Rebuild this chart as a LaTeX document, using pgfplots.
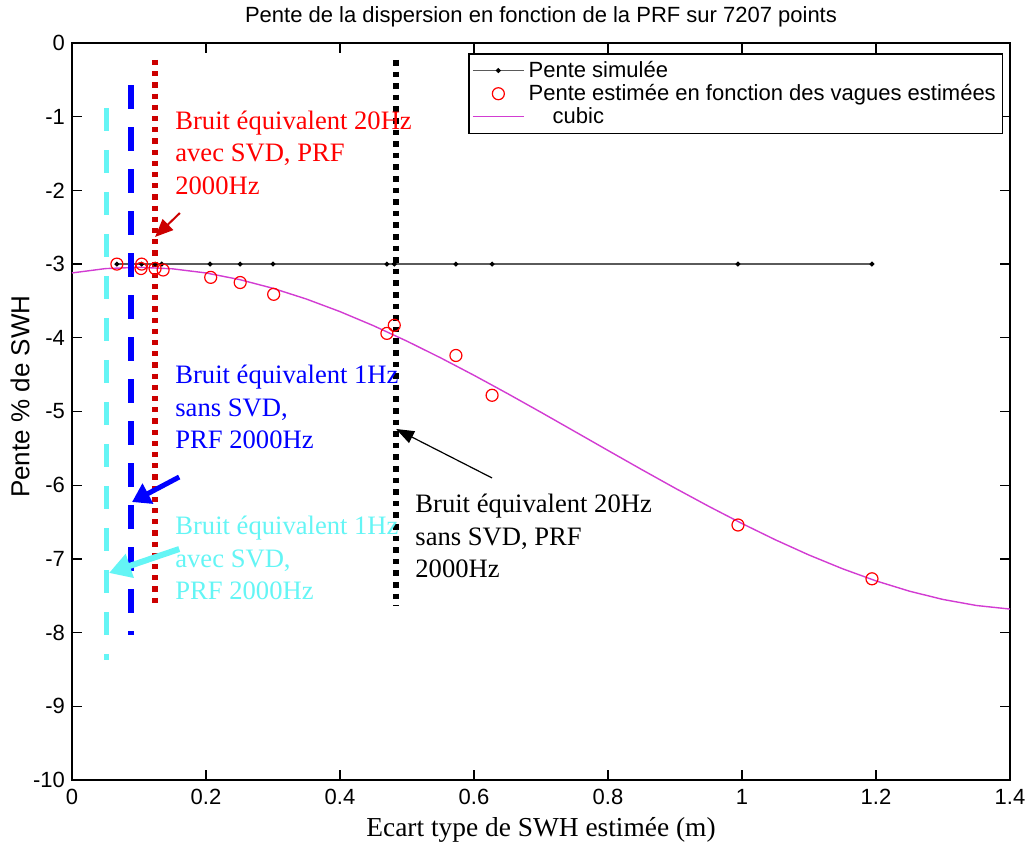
\documentclass[border=0pt]{standalone}
\usepackage{pgfplots}
\pgfplotsset{compat=1.18}
\usepackage{fontspec}
\setmainfont{Liberation Serif}
\newfontfamily\arial{Liberation Sans}
\usetikzlibrary{arrows.meta}
\definecolor{darkred}{RGB}{204,0,0}
\definecolor{mycyan}{RGB}{100,245,245}
\definecolor{mymag}{RGB}{210,60,210}
\definecolor{simgray}{RGB}{90,90,90}
\pgfplotsset{
  longline legend/.style={legend image code/.code={\draw[mark repeat=2,mark phase=2,##1] plot coordinates {(0cm,0cm) (0.45cm,0cm) (0.9cm,0cm)};}},
  circ legend/.style={legend image code/.code={\path (0cm,0cm) (0.9cm,0cm); \draw[##1] plot coordinates {(0.45cm,0cm)};}},
}
\begin{document}
\begin{tikzpicture}
\begin{axis}[
  scale only axis, width=469pt, height=368.5pt,
  xmin=0, xmax=1.4, ymin=-10, ymax=0,
  clip=false,
  xtick={0,0.2,0.4,0.6,0.8,1,1.2,1.4},
  xticklabels={0,0.2,0.4,0.6,0.8,1,1.2,1.4},
  ytick={-10,-9,-8,-7,-6,-5,-4,-3,-2,-1,0},
  yticklabels={-10,-9,-8,-7,-6,-5,-4,-3,-2,-1,0},
  tick align=inside, major tick length=5pt,
  tick style={black, line width=0.6pt},
  axis line style={line width=0.7pt},
  ticklabel style={font=\arial\fontsize{11}{13}\selectfont},
  xticklabel style={yshift=-1pt},
  /pgf/number format/assume math mode=true,
  xlabel={Ecart type de SWH estimée (m)},
  xlabel style={font=\fontsize{13.7}{16}\selectfont, at={(axis description cs:0.5,0)}, anchor=center, yshift=-25pt},
  ylabel={Pente \% de SWH},
  ylabel style={font=\arial\fontsize{13}{15}\selectfont, at={([xshift=-26pt]axis description cs:0,0.52)}, anchor=center},
  legend style={at={(rel axis cs:0.993,0.986)}, anchor=north east, font=\arial\fontsize{11}{13}\selectfont, draw=black, line width=0.6pt, row sep=-2pt, inner sep=1.5pt},
  legend cell align=left,
  longline legend,
]
\coordinate (BL) at (rel axis cs:0,0);
\coordinate (TR) at (rel axis cs:1,1);
% simulated slope
\addplot[simgray, line width=0.6pt, mark=*, mark size=0.9pt, mark options={black, fill=black}] coordinates {
(0.067,-3) (0.104,-3) (0.124,-3) (0.134,-3) (0.206,-3) (0.251,-3) (0.300,-3)
(0.470,-3) (0.481,-3) (0.573,-3) (0.627,-3) (0.994,-3) (1.194,-3)};
\addlegendentry{Pente simulée}
% estimated slope
\addplot[only marks, mark=o, mark size=3pt, red, mark options={line width=0.6pt}, circ legend] coordinates {
(0.067,-3.00) (0.104,-3.00) (0.103,-3.06) (0.124,-3.06) (0.136,-3.08)
(0.207,-3.18) (0.251,-3.25) (0.301,-3.41) (0.470,-3.94) (0.481,-3.83)
(0.573,-4.24) (0.627,-4.78) (0.994,-6.54) (1.194,-7.27)};
\addlegendentry{Pente estimée en fonction des vagues estimées}
% cubic fit
\addplot[mymag, line width=0.7pt] coordinates {
(0.00,-3.1200) (0.05,-3.0609) (0.10,-3.0432) (0.15,-3.0640) (0.20,-3.1204)
(0.25,-3.2096) (0.30,-3.3286) (0.35,-3.4746) (0.40,-3.6448) (0.45,-3.8361)
(0.50,-4.0459) (0.55,-4.2711) (0.60,-4.5089) (0.65,-4.7565) (0.70,-5.0109)
(0.75,-5.2693) (0.80,-5.5287) (0.85,-5.7864) (0.90,-6.0395) (0.95,-6.2849)
(1.00,-6.5200) (1.05,-6.7418) (1.10,-6.9474) (1.15,-7.1336) (1.20,-7.2985)
(1.25,-7.4384) (1.30,-7.5504) (1.35,-7.6324) (1.40,-7.6808)};
\addlegendentry{\hspace*{12pt}cubic}
% vertical markers
\addplot[mycyan, line width=2.8pt, dash pattern=on 11.5pt off 9.5pt, forget plot] coordinates {(0.0515,-0.88) (0.0515,-8.37)};
\addplot[blue, line width=2.8pt, dash pattern=on 12pt off 9pt, forget plot] coordinates {(0.088,-0.57) (0.088,-8.03)};
\addplot[darkred, line width=2.6pt, dash pattern=on 2.6pt off 3pt, forget plot] coordinates {(0.124,-0.23) (0.124,-7.64)};
\addplot[black, line width=2.8pt, dash pattern=on 2.8pt off 3pt, forget plot] coordinates {(0.4836,-0.23) (0.4836,-7.64)};
% arrows
\draw[darkred, line width=1pt, -{Triangle[length=9pt, width=7.5pt]}] (axis cs:0.161,-2.307) -- (axis cs:0.124,-2.632);
\draw[blue, line width=2.5pt, -{Triangle[length=9pt, width=11pt]}] (axis cs:0.160,-5.889) -- (axis cs:0.0896,-6.228);
\draw[mycyan, line width=3pt, -{Triangle[length=11pt, width=12pt]}] (axis cs:0.160,-6.866) -- (axis cs:0.0552,-7.191);
\draw[black, line width=0.6pt, -{Triangle[length=9pt, width=6.5pt]}] (axis cs:0.627,-5.902) -- (axis cs:0.4836,-5.237);
% annotation texts
\node[red, anchor=west, align=left, inner sep=0pt, font=\fontsize{13.3}{16.25}\selectfont] at (axis cs:0.1537,-1.49) {Bruit équivalent 20Hz\\avec SVD, PRF\\2000Hz};
\node[blue, anchor=west, align=left, inner sep=0pt, font=\fontsize{13.3}{16.25}\selectfont] at (axis cs:0.1537,-4.94) {Bruit équivalent 1Hz\\sans SVD,\\PRF 2000Hz};
\node[mycyan, anchor=west, align=left, inner sep=0pt, font=\fontsize{13.3}{16.25}\selectfont] at (axis cs:0.1537,-6.99) {Bruit équivalent 1Hz\\avec SVD,\\PRF 2000Hz};
\node[black, anchor=west, align=left, inner sep=0pt, font=\fontsize{13.3}{16.25}\selectfont] at (axis cs:0.512,-6.69) {Bruit équivalent 20Hz\\sans SVD, PRF\\2000Hz};
% title
\node[font=\arial\fontsize{11}{13}\selectfont, anchor=center] at ([yshift=13pt]rel axis cs:0.5,1) {Pente de la dispersion en fonction de la PRF sur 7207 points};
\end{axis}
\pgfresetboundingbox
\path[use as bounding box] ([shift={(-36pt,-38.5pt)}]BL) rectangle ([shift={(8.5pt,21.5pt)}]TR);
\end{tikzpicture}
\end{document}
